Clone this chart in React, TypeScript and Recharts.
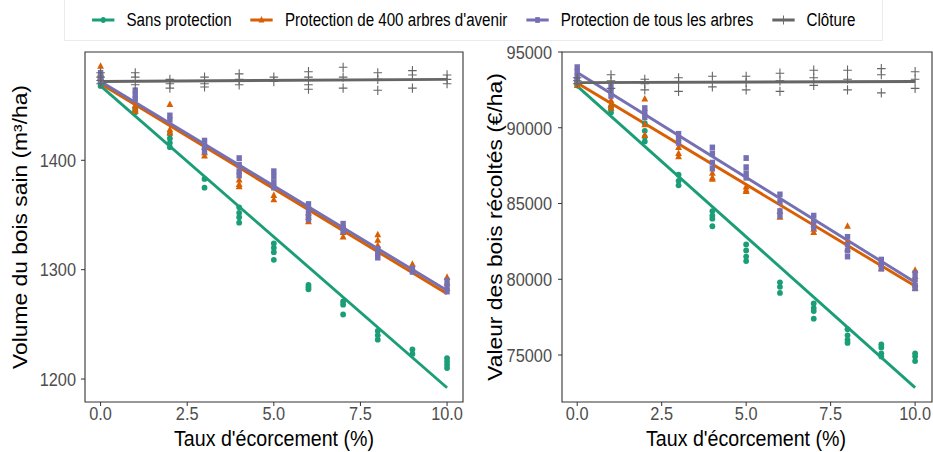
import React from 'react'
import {
  ComposedChart, Scatter, Line, XAxis, YAxis, ReferenceArea,
} from 'recharts'

const FONT = '"Liberation Sans", Arial, sans-serif'
// the source image is slightly squeezed horizontally, text included
const SQUEEZE = 0.86

const xLevels = [0, 1, 2, 3, 4, 5, 6, 7, 8, 9, 10]
const xTicks = [0, 2.5, 5, 7.5, 10]

const seriesNames = ['Sans protection', 'Protection de 400 arbres d\'avenir', 'Protection de tous les arbres', 'Clôture']
const seriesColors = ['#1B9E77', '#D95F02', '#7570B3', '#666666']

// Volume du bois sain (m³/ha) : répétitions par taux d'écorcement
const volSans = [
  [1477, 1474, 1471, 1468], [1448, 1446, 1444], [1424, 1420, 1416, 1412], [1383, 1375],
  [1357, 1352, 1348, 1343], [1324, 1320, 1316, 1309], [1286, 1284, 1282], [1271, 1268, 1259],
  [1244, 1240, 1236], [1227, 1223], [1219, 1216, 1213, 1210],
]
const volArbres = [
  [1486, 1479, 1476], [1450, 1447, 1445], [1451, 1428, 1425], [1412, 1407, 1404],
  [1382, 1378, 1376], [1368, 1364], [1352, 1348, 1344], [1340, 1334, 1330],
  [1332, 1327, 1322], [1305, 1301], [1293, 1288, 1283],
]
const volTous = [
  [1480, 1477, 1474, 1472], [1464, 1460, 1456], [1441, 1437], [1418, 1413, 1408],
  [1402, 1396, 1390, 1386], [1390, 1385, 1380, 1375], [1360, 1355, 1350, 1346], [1342, 1338, 1335],
  [1319, 1315, 1311], [1301, 1298], [1290, 1285, 1280],
]
const volCloture = [
  [1480, 1476, 1473, 1470], [1480, 1476, 1469], [1474, 1470, 1466], [1476, 1470, 1467],
  [1479, 1474, 1469], [1476, 1472], [1481, 1476, 1469, 1465], [1485, 1476, 1466],
  [1480, 1474, 1464], [1482, 1478, 1466], [1478, 1474, 1470],
]
// droites ajustées : valeur à 0 % et à 10 %
const volSansFit = [1468, 1192]
const volArbresFit = [1470, 1278]
const volTousFit = [1472, 1281]
const volClotureFit = [1472, 1474]

// Valeur des bois récoltés (€/ha)
const valSans = [
  [93100, 92900, 92800], [91400, 91200, 91000], [90300, 89800, 89400, 89100], [86900, 86500, 86200],
  [84500, 84200, 84000, 83500], [82300, 81900, 81500, 81200], [79800, 79500, 79100], [78400, 78100, 77900, 77400],
  [76700, 76300, 76000, 75800], [75700, 75500, 75100, 74900], [75100, 74900, 74600],
]
const valArbres = [
  [93400, 93100, 92800], [91800, 91500, 91300], [91900, 90200, 89500], [88700, 88300, 88100],
  [87000, 86700, 86600], [86100, 85900, 85800], [84500, 84100], [83600, 83300, 83100],
  [83500, 82500, 82000], [81000, 80700], [80600, 80200, 79700, 79400],
]
const valTous = [
  [94000, 93700, 93400, 93100], [92700, 92400, 92100], [91300, 91000, 90700], [89600, 89300, 89000],
  [88700, 88300, 87700, 87300], [88000, 87400, 87000, 86700], [85600, 85100, 84500, 84200], [84200, 83800, 83400],
  [82800, 82300, 81900, 81500], [81300, 81000, 80700], [80400, 80000, 79600, 79400],
]
const valCloture = [
  [93300, 93100, 92900], [93500, 93100, 92600], [93200, 92900, 92500], [93300, 93000, 92400],
  [93400, 92700], [93400, 93000, 92500], [93600, 93100, 92400], [93800, 93300, 92800],
  [93800, 93200, 92500], [93900, 93500, 92300], [93700, 93200, 92600],
]
const valSansFit = [92750, 72850]
const valArbresFit = [92950, 79550]
const valTousFit = [93650, 79800]
const valClotureFit = [92980, 93050]

const volTicks = [1200, 1300, 1400]
const valTicks = [75000, 80000, 85000, 90000, 95000]

type Pt = { x: number; y: number }

const toPoints = (reps: number[][]): Pt[] =>
  reps.flatMap((vals, i) => vals.map(v => ({ x: xLevels[i], y: v })))

const toFit = (fit: number[]): Pt[] => [
  { x: xLevels[0], y: fit[0] },
  { x: xLevels[xLevels.length - 1], y: fit[1] },
]

function marker(kind: number, color: string, cx: number, cy: number) {
  if (kind === 0) return <circle cx={cx} cy={cy} r={2.9} fill={color} />
  if (kind === 1) {
    return <polygon points={`${cx},${cy - 4} ${cx - 3.4},${cy + 2.6} ${cx + 3.4},${cy + 2.6}`} fill={color} />
  }
  if (kind === 2) return <rect x={cx - 2.7} y={cy - 2.9} width={5.4} height={5.8} fill={color} />
  return <path d={`M${cx - 4.3},${cy}H${cx + 4.3}M${cx},${cy - 4.6}V${cy + 4.6}`} stroke={color} strokeWidth={1.1} />
}

const TICK_FILL = '#4D4D4D'
const TICK_SIZE = 19

function XTick({ x, y, payload }: any) {
  return (
    <text
      x={0} y={0} dy="0.71em" textAnchor="middle"
      transform={`translate(${x},${y}) scale(${SQUEEZE},1)`}
      fill={TICK_FILL} fontSize={TICK_SIZE} fontFamily={FONT}
    >
      {Number(payload.value).toFixed(1)}
    </text>
  )
}

function YTick({ x, y, payload }: any) {
  return (
    <text
      x={0} y={0} dy="0.355em" textAnchor="end"
      transform={`translate(${x},${y}) scale(${SQUEEZE},1)`}
      fill={TICK_FILL} fontSize={TICK_SIZE} fontFamily={FONT}
    >
      {payload.value}
    </text>
  )
}

interface PanelProps {
  left: number
  width: number
  yWidth: number
  marginLeft: number
  marginRight: number
  yTickMargin: number
  xDomain: [number, number]
  yDomain: [number, number]
  yTicks: number[]
  groups: number[][][]
  fits: number[][]
}

function Panel(props: PanelProps) {
  const { left, width, yWidth, marginLeft, marginRight, yTickMargin, xDomain, yDomain, yTicks, groups, fits } = props
  return (
    <div style={{ position: 'absolute', left, top: 0 }}>
      <ComposedChart
        width={width}
        height={452}
        margin={{ top: 52, right: marginRight, bottom: 20, left: marginLeft }}
      >
        <XAxis
          type="number" dataKey="x" domain={xDomain} ticks={xTicks} allowDataOverflow
          height={30} tickSize={4} tickMargin={0}
          axisLine={false} tickLine={{ stroke: '#333333' }} tick={<XTick />}
        />
        <YAxis
          type="number" dataKey="y" domain={yDomain} ticks={yTicks} allowDataOverflow
          width={yWidth} tickSize={4} tickMargin={yTickMargin}
          axisLine={false} tickLine={{ stroke: '#333333' }} tick={<YTick />}
        />
        <ReferenceArea
          x1={xDomain[0]} x2={xDomain[1]} y1={yDomain[0]} y2={yDomain[1]}
          fill="none" fillOpacity={0} stroke="#333333" strokeWidth={1.1} ifOverflow="visible"
        />
        {groups.map((g, k) => (
          <Scatter
            key={`pts-${k}`}
            name={seriesNames[k]}
            data={toPoints(g)}
            isAnimationActive={false}
            shape={(p: any) => marker(k, seriesColors[k], p.cx, p.cy)}
          />
        ))}
        {fits.map((f, k) => (
          <Line
            key={`fit-${k}`}
            name={`${seriesNames[k]} fit`}
            data={toFit(f)}
            dataKey="y"
            type="linear"
            stroke={seriesColors[k]}
            strokeWidth={2.9}
            dot={false}
            activeDot={false}
            isAnimationActive={false}
          />
        ))}
      </ComposedChart>
    </div>
  )
}

function LegendIcon({ k }: { k: number }) {
  return (
    <svg width={28} height={16} style={{ display: 'block' }}>
      <line x1={1} x2={27} y1={8} y2={8} stroke={seriesColors[k]} strokeWidth={3} />
      {marker(k, seriesColors[k], 14, 8)}
    </svg>
  )
}

const titleStyle: React.CSSProperties = {
  position: 'absolute', fontFamily: FONT, fontSize: 22.8, color: '#000', whiteSpace: 'nowrap',
}

export default function App() {
  return (
    <div style={{ position: 'absolute', left: 0, top: 0, width: 933, height: 452, background: '#fff', overflow: 'hidden' }}>
      <div
        style={{
          position: 'absolute', left: 64, top: -1, width: 819, height: 42,
          border: '1px solid #EBEBEB', boxSizing: 'border-box',
          display: 'flex', alignItems: 'center', justifyContent: 'center',
        }}
      >
        <div
          style={{
            display: 'flex', alignItems: 'center', flexShrink: 0,
            transform: `scaleX(${SQUEEZE})`, transformOrigin: 'center',
            fontFamily: FONT, fontSize: 17.6, color: '#000', whiteSpace: 'nowrap',
          }}
        >
          {seriesNames.map((n, k) => (
            <div key={n} style={{ display: 'flex', alignItems: 'center', marginRight: k < 3 ? 21 : 0 }}>
              <LegendIcon k={k} />
              <span style={{ marginLeft: 13 }}>{n}</span>
            </div>
          ))}
        </div>
      </div>

      <Panel
        left={0} width={470} yWidth={60} marginLeft={25} marginRight={7} yTickMargin={5}
        xDomain={[-0.45, 10.46]} yDomain={[1179, 1499]} yTicks={volTicks}
        groups={[volSans, volArbres, volTous, volCloture]}
        fits={[volSansFit, volArbresFit, volTousFit, volClotureFit]}
      />
      <Panel
        left={470} width={463} yWidth={70} marginLeft={22} marginRight={1} yTickMargin={6}
        xDomain={[-0.45, 10.5]} yDomain={[71900, 95000]} yTicks={valTicks}
        groups={[valSans, valArbres, valTous, valCloture]}
        fits={[valSansFit, valArbresFit, valTousFit, valClotureFit]}
      />

      <div style={{ ...titleStyle, left: 274, top: 438, transform: `translate(-50%, -50%) scaleX(${SQUEEZE})` }}>
        Taux d'écorcement (%)
      </div>
      <div style={{ ...titleStyle, left: 746, top: 438, transform: `translate(-50%, -50%) scaleX(${SQUEEZE})` }}>
        Taux d'écorcement (%)
      </div>
      <div style={{ ...titleStyle, left: 21, top: 227, transform: `translate(-50%, -50%) scaleX(${SQUEEZE}) rotate(-90deg)` }}>
        Volume du bois sain (m³/ha)
      </div>
      <div style={{ ...titleStyle, left: 496, top: 227, transform: `translate(-50%, -50%) scaleX(${SQUEEZE}) rotate(-90deg)` }}>
        Valeur des bois récoltés (€/ha)
      </div>
    </div>
  )
}
